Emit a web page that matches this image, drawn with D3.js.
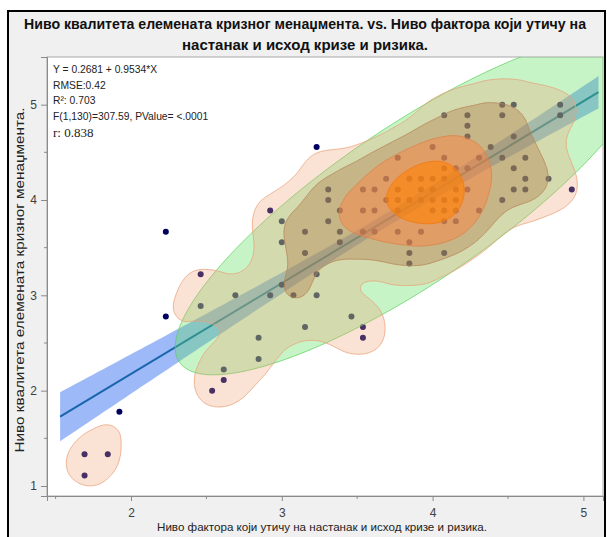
<!DOCTYPE html>
<html>
<head>
<meta charset="utf-8">
<script src="https://cdn.jsdelivr.net/npm/d3@7"></script>
<style>
  html, body { margin: 0; padding: 0; background: #ffffff; }
  svg { display: block; }
</style>
</head>
<body>
<svg id="chart" width="607" height="537"></svg>
<script>
// ---- text ----
const titleLines = [
  "Ниво квалитета елемената кризног менаџмента. vs. Ниво фактора који утичу на",
  "настанак и исход кризе и ризика."
];
const xTitle = "Ниво фактора који утичу на настанак и исход кризе и ризика.";
const yTitle = "Ниво квалитета елемената кризног менаџмента.";
const fitLines = [
  "Y = 0.2681 + 0.9534*X",
  "RMSE:0.42",
  "R²: 0.703",
  "F(1,130)=307.59, PValue= <.0001"
];
const corrLine = "r: 0.838";

// ---- axes ----
const xDomain = [1.443, 5.13];
const yDomain = [0.895, 5.5];
const xTicks = [2, 3, 4, 5];
const yTicks = [1, 2, 3, 4, 5];
const xMinorTicks = [1.5, 2.5, 3.5, 4.5];
const yMinorTicks = [1.5, 2.5, 3.5, 4.5];

// ---- linear fit and correlation ----
const intercept = 0.2681;
const slope = 0.9534;
const rmse = 0.42;
const rValue = 0.838;
const tCrit = 1.978;          // t(0.975, 130)
const fitRange = [1.53, 5.1];

// ---- observations (x score, y score, number of respondents at that point) ----
const xScore = [
  4.462, 4.538, 4.846,
  4.077, 4.231, 4.462, 4.846,
  4.231,
  4.231, 4.538,
  3.231, 4.000, 4.385,
  3.769, 4.077, 4.308, 4.462, 4.615,
  4.077, 4.154, 4.231, 4.538,
  3.692, 3.846, 3.923, 4.000, 4.077, 4.615, 4.769,
  3.308, 3.538, 3.615, 3.769, 3.923, 4.000, 4.154, 4.231, 4.538, 4.615, 4.923,
  3.308, 3.692, 3.769, 3.846, 3.923, 4.000, 4.077, 4.154, 4.462,
  2.923, 3.385, 3.538, 3.615, 3.769, 4.000, 4.077, 4.154, 4.308,
  3.000, 3.308, 4.077, 4.154,
  2.231, 3.154, 3.385, 3.538, 3.615, 3.769, 3.923,
  3.000, 3.385, 3.846,
  3.154, 3.846, 4.077,
  3.846,
  2.462, 3.231,
  3.000,
  2.692, 2.923, 3.077, 3.231,
  2.462,
  2.231, 3.462,
  3.154, 3.538,
  2.846, 3.538,
  2.846,
  2.615,
  2.615,
  2.538,
  1.923,
  1.692, 1.846,
  1.692
];
const yScore = [
  5.000, 5.000, 5.000,
  4.889, 4.889, 4.889, 4.889,
  4.778,
  4.667, 4.667,
  4.556, 4.556, 4.556,
  4.444, 4.444, 4.444, 4.444, 4.444,
  4.333, 4.333, 4.333, 4.333,
  4.222, 4.222, 4.222, 4.222, 4.222, 4.222, 4.222,
  4.111, 4.111, 4.111, 4.111, 4.111, 4.111, 4.111, 4.111, 4.111, 4.111, 4.111,
  4.000, 4.000, 4.000, 4.000, 4.000, 4.000, 4.000, 4.000, 4.000,
  3.889, 3.889, 3.889, 3.889, 3.889, 3.889, 3.889, 3.889, 3.889,
  3.778, 3.778, 3.778, 3.778,
  3.667, 3.667, 3.667, 3.667, 3.667, 3.667, 3.667,
  3.556, 3.556, 3.556,
  3.444, 3.444, 3.444,
  3.333,
  3.222, 3.222,
  3.111,
  3.000, 3.000, 3.000, 3.000,
  2.889,
  2.778, 2.778,
  2.667, 2.667,
  2.556, 2.556,
  2.333,
  2.222,
  2.111,
  2.000,
  1.778,
  1.333, 1.333,
  1.111
];
const respondents = [
  1, 1, 1,
  1, 1, 1, 1,
  1,
  1, 1,
  1, 2, 1,
  1, 2, 1, 1, 1,
  2, 2, 1, 1,
  2, 2, 3, 2, 2, 1, 1,
  1, 2, 1, 2, 2, 3, 2, 1, 1, 1, 1,
  2, 2, 3, 2, 3, 3, 2, 2, 1,
  1, 1, 1, 1, 2, 2, 2, 2, 1,
  1, 1, 2, 1,
  1, 1, 1, 2, 2, 1, 1,
  1, 1, 1,
  1, 1, 1,
  1,
  1, 1,
  1,
  1, 1, 1, 1,
  1,
  1, 1,
  1, 1,
  1, 1,
  1,
  1,
  1,
  1,
  1,
  1, 1,
  1
];

// bivariate normal density ellipse (centre and spread of X)
const ellipseMeanX = 3.86;
const ellipseSdX = 0.64;
const ellipseCoverage = 0.95;

// nonparametric density contours:
// outermost level in units of one respondent's kernel peak,
// inner levels as the share of respondents lying below them
const outerLevel = 1.4;
const innerLevels = [0.21, 0.44, 0.64];

// ---- layout ----
const W = 607, H = 537;
const plot = { left: 47, right: 603, top: 57, bottom: 496 };

const svg = d3.select("#chart");
const xs = d3.scaleLinear().domain(xDomain).range([plot.left, plot.right]);
const ys = d3.scaleLinear().domain(yDomain).range([plot.bottom, plot.top]);

const pts = xScore.map((x, i) => ({ x, y: yScore[i], w: respondents[i] }));
const nObs = d3.sum(pts, d => d.w);

// frame and grey panel
svg.append("rect").attr("x", 0).attr("y", 0).attr("width", W).attr("height", H).attr("fill", "#ffffff");
svg.append("rect").attr("x", 8).attr("y", 11).attr("width", W - 10).attr("height", H)
  .attr("fill", "#f0f0f0").attr("stroke", "#000").attr("stroke-width", 2);

// title
svg.append("g").selectAll("text").data(titleLines).join("text")
  .attr("x", 305).attr("y", (d, i) => 29 + i * 21)
  .attr("text-anchor", "middle")
  .attr("font-family", "Liberation Sans, Arial, sans-serif")
  .attr("font-weight", "bold").attr("font-size", 14.5)
  .attr("fill", "#111")
  .attr("textLength", (d, i) => i === 0 ? 562 : 246)
  .attr("lengthAdjust", "spacingAndGlyphs")
  .text(d => d);

// plot panel
svg.append("rect").attr("x", plot.left).attr("y", plot.top)
  .attr("width", plot.right - plot.left).attr("height", plot.bottom - plot.top)
  .attr("fill", "#ffffff").attr("stroke", "#a8a8a8").attr("stroke-width", 1);

svg.append("clipPath").attr("id", "plotClip").append("rect")
  .attr("x", plot.left).attr("y", plot.top)
  .attr("width", plot.right - plot.left).attr("height", plot.bottom - plot.top);

const layer = svg.append("g").attr("clip-path", "url(#plotClip)");

// confidence band for the fitted mean
const mx = d3.sum(pts, d => d.w * d.x) / nObs;
const sxx = d3.sum(pts, d => d.w * (d.x - mx) ** 2);
const bandXs = d3.range(0, 101).map(i => fitRange[0] + (fitRange[1] - fitRange[0]) * i / 100);
const band = bandXs.map(x => {
  const yhat = intercept + slope * x;
  const half = tCrit * rmse * Math.sqrt(1 / nObs + (x - mx) ** 2 / sxx);
  return { x, lo: yhat - half, hi: yhat + half };
});
layer.append("path").datum(band)
  .attr("d", d3.area().x(d => xs(d.x)).y0(d => ys(d.lo)).y1(d => ys(d.hi)))
  .attr("fill", "#3c74f0").attr("fill-opacity", 0.5);

layer.append("line")
  .attr("x1", xs(fitRange[0])).attr("y1", ys(intercept + slope * fitRange[0]))
  .attr("x2", xs(fitRange[1])).attr("y2", ys(intercept + slope * fitRange[1]))
  .attr("stroke", "#1766ad").attr("stroke-width", 2);

// observations
layer.append("g").selectAll("circle").data(pts).join("circle")
  .attr("cx", d => xs(d.x)).attr("cy", d => ys(d.y)).attr("r", 3)
  .attr("fill", "#000060");

// density ellipse: centre on the fit line, spread of Y follows from slope and r
const eMy = intercept + slope * ellipseMeanX;
const eSdY = slope * ellipseSdX / rValue;
const kRad = Math.sqrt(-2 * Math.log(1 - ellipseCoverage));
const ell = d3.range(0, 181).map(i => {
  const t = 2 * Math.PI * i / 180;
  return [
    xs(ellipseMeanX + kRad * ellipseSdX * Math.cos(t)),
    ys(eMy + kRad * eSdY * (rValue * Math.cos(t) + Math.sqrt(1 - rValue * rValue) * Math.sin(t)))
  ];
});
layer.append("path").attr("d", d3.line()(ell) + "Z")
  .attr("fill", "#5fe05f").attr("fill-opacity", 0.35)
  .attr("stroke", "#59cf59").attr("stroke-opacity", 0.7).attr("stroke-width", 1);

// kernel density contours
const bw = 22;
const peak = 1 / (2 * Math.PI * bw * bw);
const kde = p => d3.sum(pts, q => {
  const dx = xs(p.x) - xs(q.x), dy = ys(p.y) - ys(q.y);
  return q.w * Math.exp(-(dx * dx + dy * dy) / (2 * bw * bw));
}) * peak;
const dens = [];
pts.forEach(p => { const v = kde(p); for (let i = 0; i < p.w; i++) dens.push(v); });
dens.sort(d3.ascending);
const thresholds = [outerLevel * peak].concat(innerLevels.map(q => d3.quantileSorted(dens, q)));

const contours = d3.contourDensity()
  .x(d => xs(d.x)).y(d => ys(d.y)).weight(d => d.w)
  .size([W, H]).cellSize(2).bandwidth(bw)
  .thresholds(thresholds)(pts);

const fills = ["#f0a070", "#b07040", "#ff8040", "#ff8000"];
const fillOp = [0.3, 0.35, 0.45, 0.6];
const strokes = ["#eba27a", "#b88458", "#e08048", "#f07810"];
layer.append("g").selectAll("path").data(contours).join("path")
  .attr("d", d3.geoPath())
  .attr("fill", (d, i) => fills[i]).attr("fill-opacity", (d, i) => fillOp[i])
  .attr("stroke", (d, i) => strokes[i]).attr("stroke-opacity", 0.8).attr("stroke-width", 1);

// axes
const axisColor = "#8a8a8a";
const labelFont = "Liberation Sans, Arial, sans-serif";
const gx = svg.append("g").attr("transform", `translate(0,${plot.bottom})`)
  .call(d3.axisBottom(xs).tickValues(xTicks).tickSize(5).tickPadding(7).tickFormat(d3.format("d")));
gx.append("g").selectAll("line").data(xMinorTicks).join("line")
  .attr("x1", d => xs(d)).attr("x2", d => xs(d)).attr("y1", 0).attr("y2", 3);
const gy = svg.append("g").attr("transform", `translate(${plot.left},0)`)
  .call(d3.axisLeft(ys).tickValues(yTicks).tickSize(6).tickPadding(4).tickFormat(d3.format("d")));
gy.append("g").selectAll("line").data(yMinorTicks).join("line")
  .attr("y1", d => ys(d)).attr("y2", d => ys(d)).attr("x1", 0).attr("x2", -3);
[gx, gy].forEach(g => {
  g.select(".domain").attr("stroke", axisColor);
  g.selectAll("line").attr("stroke", axisColor);
  g.selectAll("text").attr("font-family", labelFont).attr("font-size", 12).attr("fill", "#404040");
});

// axis titles
svg.append("text").attr("x", 322).attr("y", 531).attr("text-anchor", "middle")
  .attr("font-family", labelFont).attr("font-size", 11.5).attr("fill", "#222")
  .attr("textLength", 330).attr("lengthAdjust", "spacingAndGlyphs")
  .text(xTitle);
svg.append("text").attr("transform", `translate(24,${280}) rotate(-90)`).attr("text-anchor", "middle")
  .attr("font-family", labelFont).attr("font-size", 12.5).attr("fill", "#222")
  .attr("textLength", 345).attr("lengthAdjust", "spacingAndGlyphs")
  .text(yTitle);

// fit summary
svg.append("g").selectAll("text").data(fitLines).join("text")
  .attr("x", 53).attr("y", (d, i) => 73 + i * 15.5)
  .attr("font-family", labelFont).attr("font-size", 10.3).attr("fill", "#222")
  .text(d => d);
svg.append("text").attr("x", 53).attr("y", 137)
  .attr("font-family", "Liberation Serif, serif").attr("font-size", 13).attr("fill", "#222")
  .text(corrLine);
</script>
</body>
</html>
